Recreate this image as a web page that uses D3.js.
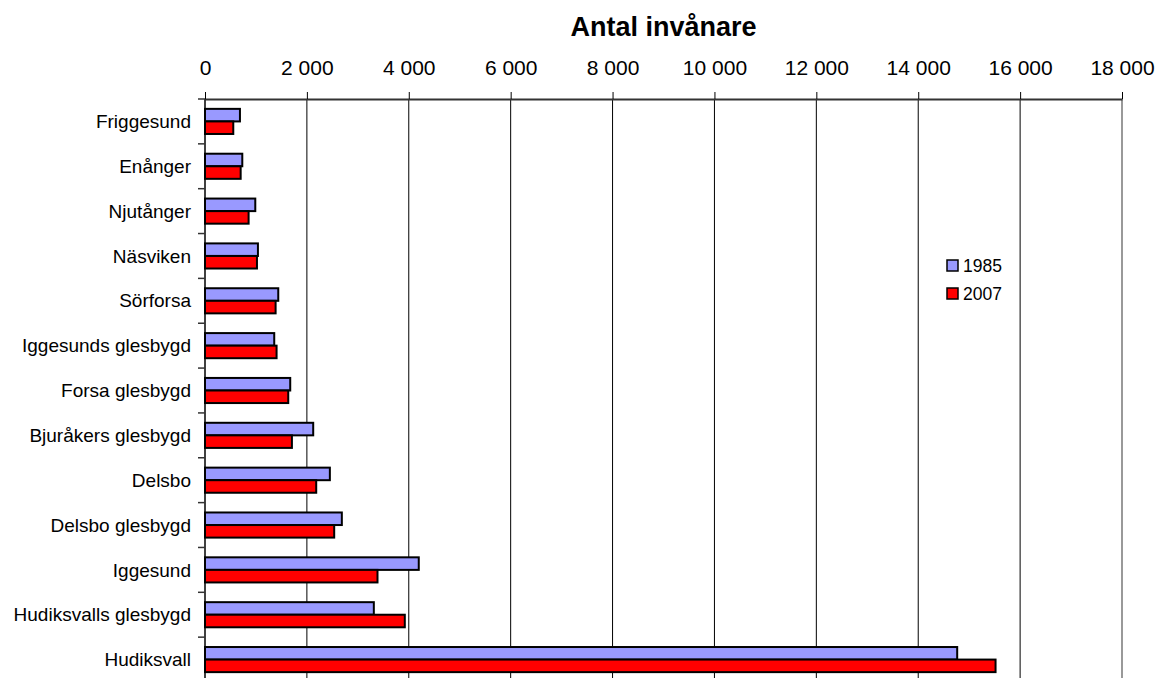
<!DOCTYPE html>
<html>
<head>
<meta charset="utf-8">
<script src="https://cdn.jsdelivr.net/npm/d3@7"></script>
<style>
  body { margin: 0; background: #fff; }
  text { font-family: "Liberation Sans", Arial, sans-serif; fill: #000; }
</style>
</head>
<body>
<script>
// DATA
const categories = ["Friggesund", "Enånger", "Njutånger", "Näsviken", "Sörforsa",
  "Iggesunds glesbygd", "Forsa glesbygd", "Bjuråkers glesbygd", "Delsbo",
  "Delsbo glesbygd", "Iggesund", "Hudiksvalls glesbygd", "Hudiksvall"];
const years = ["1985", "2007"];
const values1985 = [686, 732, 987, 1039, 1438, 1359, 1673, 2124, 2451, 2686, 4196, 3314, 14765];
const values2007 = [555, 700, 856, 1020, 1386, 1405, 1634, 1706, 2183, 2536, 3386, 3922, 15518];
const xTicks = [0, 2000, 4000, 6000, 8000, 10000, 12000, 14000, 16000, 18000];
const title = "Antal invånare";

const colors = { "1985": "#9999ff", "2007": "#ff0000" };

// SIZES
const svgwidth = 1157, svgheight = 678;
const plot = { left: 205, right: 1122, top: 99, bottom: 682 };

const svg = d3.select("body").append("svg")
  .attr("width", svgwidth)
  .attr("height", svgheight);

// SCALES
const x = d3.scaleLinear().domain([0, 18000]).range([plot.left, plot.right]);

const y0 = d3.scaleBand()
  .domain(categories)
  .range([plot.top, plot.bottom])
  .paddingInner(0.44)
  .paddingOuter(0.22);

const y1 = d3.scaleBand()
  .domain(years)
  .range([0, y0.bandwidth()]);

const rows = categories.map((c, i) => ({
  cat: c,
  vals: [
    { year: "1985", v: values1985[i] },
    { year: "2007", v: values2007[i] }
  ]
}));

const sv = d3.formatLocale({ decimal: ",", thousands: " ", grouping: [3], currency: ["", ""] });
const fmt = sv.format(",d");

// GRIDLINES
svg.append("g").selectAll("line")
  .data(xTicks.slice(1, -1))
  .join("line")
  .attr("x1", d => x(d)).attr("x2", d => x(d))
  .attr("y1", plot.top).attr("y2", plot.bottom)
  .attr("stroke", "#000")
  .attr("stroke-width", 1);

// right border of plot area
svg.append("line")
  .attr("x1", x(18000)).attr("x2", x(18000))
  .attr("y1", plot.top).attr("y2", plot.bottom)
  .attr("stroke", "#999")
  .attr("stroke-width", 2);

// BARS
const groups = svg.append("g").selectAll("g")
  .data(rows)
  .join("g")
  .attr("transform", d => `translate(0, ${y0(d.cat)})`);

groups.selectAll("rect")
  .data(d => d.vals)
  .join("rect")
  .attr("x", x(0))
  .attr("y", d => y1(d.year))
  .attr("width", d => x(d.v) - x(0))
  .attr("height", y1.bandwidth())
  .attr("fill", d => colors[d.year])
  .attr("stroke", "#000")
  .attr("stroke-width", 2);

// TOP AXIS
const xAxis = svg.append("g")
  .attr("transform", `translate(0, ${plot.top})`)
  .call(d3.axisTop(x).tickValues(xTicks).tickFormat(fmt).tickSize(7).tickSizeOuter(0).tickPadding(17));
xAxis.select(".domain").attr("stroke", "#333").attr("stroke-width", 2);
xAxis.selectAll(".tick line").attr("stroke", "#000");
xAxis.selectAll(".tick text")
  .style("font-size", "21px")
  .style("font-family", "'Liberation Sans', Arial, sans-serif");

// LEFT AXIS
svg.append("line")
  .attr("x1", plot.left).attr("x2", plot.left)
  .attr("y1", plot.top).attr("y2", plot.bottom)
  .attr("stroke", "#000")
  .attr("stroke-width", 1.5);

const step = y0.step();
svg.append("g").selectAll("line")
  .data(d3.range(categories.length + 1))
  .join("line")
  .attr("x1", plot.left - 7).attr("x2", plot.left)
  .attr("y1", i => plot.top + i * step).attr("y2", i => plot.top + i * step)
  .attr("stroke", "#333")
  .attr("stroke-width", 1.5);

svg.append("g").selectAll("text")
  .data(categories)
  .join("text")
  .attr("x", plot.left - 14)
  .attr("y", d => y0(d) + y0.bandwidth() / 2)
  .attr("dy", "0.35em")
  .attr("text-anchor", "end")
  .style("font-size", "19px")
  .text(d => d);

// TITLE
svg.append("text")
  .attr("x", (plot.left + plot.right) / 2)
  .attr("y", 36)
  .attr("text-anchor", "middle")
  .style("font-size", "27px")
  .style("font-weight", "bold")
  .text(title);

// LEGEND
const legend = svg.append("g").attr("transform", "translate(947, 260)");
const li = legend.selectAll("g")
  .data(years)
  .join("g")
  .attr("transform", (d, i) => `translate(0, ${i * 28})`);
li.append("rect")
  .attr("width", 11).attr("height", 11)
  .attr("fill", d => colors[d])
  .attr("stroke", "#000")
  .attr("stroke-width", 1.5);
li.append("text")
  .attr("x", 16)
  .attr("y", 12)
  .style("font-size", "17.5px")
  .text(d => d);
</script>
</body>
</html>
